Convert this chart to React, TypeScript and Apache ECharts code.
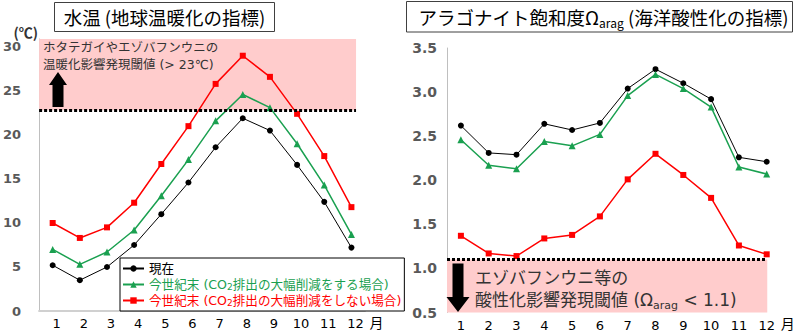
import React, { useEffect, useRef } from "react";
import * as echarts from "echarts";

const months = ["1", "2", "3", "4", "5", "6", "7", "8", "9", "10", "11", "12"];
const seriesNames = [
  "現在",
  "今世紀末 (CO2排出の大幅削減をする場合)",
  "今世紀末 (CO2排出の大幅削減をしない場合)",
];
const seriesColors = ["#000000", "#1AA050", "#FF0000"];
const seriesSymbols = ["circle", "triangle", "rect"];

// water temperature (℃)
const tempNow = [5.2, 3.5, 5.0, 7.5, 11.0, 14.6, 18.6, 21.9, 20.5, 16.6, 12.4, 7.2];
const tempLowEmission = [7.0, 5.3, 6.7, 9.2, 13.1, 17.2, 21.6, 24.6, 23.1, 19.0, 14.3, 8.7];
const tempHighEmission = [10.0, 8.3, 9.5, 12.3, 16.7, 21.0, 25.8, 29.0, 26.6, 22.4, 17.6, 11.8];

// aragonite saturation state
const omegaNow = [2.62, 2.31, 2.29, 2.64, 2.57, 2.65, 3.04, 3.26, 3.10, 2.92, 2.26, 2.21];
const omegaLowEmission = [2.46, 2.17, 2.13, 2.44, 2.39, 2.52, 2.96, 3.20, 3.04, 2.83, 2.15, 2.07];
const omegaHighEmission = [1.37, 1.17, 1.14, 1.34, 1.38, 1.59, 2.01, 2.30, 2.06, 1.80, 1.26, 1.16];

const tempThreshold = 22.8;
const omegaThreshold = 1.1;
const tempAxis = { min: 0, max: 30.9, interval: 5 };
const omegaAxis = { min: 0.5, max: 3.5, interval: 0.5 };

const CJK = "'Noto Sans CJK JP', sans-serif";
const MIX = "'DejaVu Sans', 'Noto Sans CJK JP', sans-serif";
const NUM = "'DejaVu Sans', sans-serif";

export default function App() {
  const ref = useRef<HTMLDivElement>(null);

  useEffect(() => {
    if (!ref.current) return;
    const chart = echarts.init(ref.current, null, { renderer: "svg" });

    const lineSeries = (idx: number, data: number[], grid: number) => ({
      type: "line",
      name: seriesNames[idx],
      data,
      xAxisIndex: grid,
      yAxisIndex: grid,
      symbol: seriesSymbols[idx],
      symbolSize: idx === 1 ? 7 : 6,
      itemStyle: { color: seriesColors[idx] },
      lineStyle: { color: seriesColors[idx], width: idx === 0 ? 1 : 1.5 },
      z: 3,
    });

    const catAxis = (grid: number, showLine: boolean, labelPad: number, nameGap: number) => ({
      type: "category",
      gridIndex: grid,
      data: months,
      boundaryGap: true,
      axisTick: { show: false },
      axisLine: { show: showLine, lineStyle: { color: "#D0D0D0", width: 2 } },
      axisLabel: {
        color: "#000",
        fontFamily: NUM,
        fontSize: 13,
        margin: 6,
        padding: [0, 0, 0, labelPad],
      },
      name: "月",
      nameLocation: "end",
      nameGap,
      nameTextStyle: {
        color: "#000",
        fontFamily: CJK,
        fontSize: 14,
        verticalAlign: "top",
        padding: [4, 0, 0, 0],
      },
    });

    const option: any = {
      animation: false,
      backgroundColor: "#ffffff",
      grid: [
        { left: 39, top: 39, width: 326, height: 272 },
        { left: 447, top: 48, width: 333.6, height: 264.5 },
      ],
      xAxis: [
        catAxis(0, true, 8, 2),
        catAxis(1, false, 0, -9),
        { type: "value", gridIndex: 0, min: 0, max: 12, show: false },
        { type: "value", gridIndex: 1, min: 0, max: 12, show: false },
      ],
      yAxis: [
        {
          type: "value",
          gridIndex: 0,
          min: tempAxis.min,
          max: tempAxis.max,
          interval: tempAxis.interval,
          splitLine: { show: false },
          axisTick: { show: false },
          axisLine: { show: true, lineStyle: { color: "#BFBFBF", width: 1 } },
          axisLabel: {
            color: "#595959",
            fontFamily: NUM,
            fontWeight: "bold",
            fontSize: 13,
            margin: 18,
            showMaxLabel: false,
          },
          name: "(℃)",
          nameLocation: "end",
          nameGap: 0,
          nameTextStyle: {
            color: "#333",
            fontFamily: CJK,
            fontWeight: "bold",
            fontSize: 14,
            align: "right",
            verticalAlign: "bottom",
            padding: [0, 1, 0, 0],
          },
        },
        {
          type: "value",
          gridIndex: 1,
          min: omegaAxis.min,
          max: omegaAxis.max,
          interval: omegaAxis.interval,
          splitLine: { show: false },
          axisTick: { show: false },
          axisLine: { show: true, lineStyle: { color: "#BFBFBF", width: 1 } },
          axisLabel: {
            color: "#595959",
            fontFamily: NUM,
            fontWeight: "bold",
            fontSize: 14,
            margin: 10,
            formatter: (v: number) => v.toFixed(1),
          },
        },
      ],
      legend: {
        orient: "vertical",
        left: 120,
        top: 258,
        padding: [3, 3, 3, 2],
        itemGap: 1,
        itemWidth: 21,
        itemHeight: 8,
        backgroundColor: "#ffffff",
        borderColor: "#000000",
        borderWidth: 1,
        borderRadius: 0,
        selectedMode: false,
        formatter: (name: string) => name.replace("CO2", "CO{sub|2}"),
        textStyle: {
          fontFamily: MIX,
          fontSize: 12.6,
          lineHeight: 15,
          rich: {
            sub: { fontFamily: MIX, fontSize: 9, lineHeight: 8, verticalAlign: "bottom" },
          },
        },
        data: seriesNames.map((n, i) => ({
          name: n,
          textStyle: { color: seriesColors[i] },
        })),
      },
      series: [
        {
          type: "line",
          name: "tempThresholdBand",
          data: [],
          xAxisIndex: 2,
          yAxisIndex: 0,
          z: 1,
          markArea: {
            silent: true,
            itemStyle: { color: "#FFCCCC" },
            data: [[{ coord: [0, tempThreshold] }, { coord: [11.67, tempAxis.max] }]],
          },
          markLine: {
            silent: true,
            symbol: "none",
            label: { show: false },
            lineStyle: { color: "#000", width: 3, type: [3, 2] },
            data: [[{ coord: [0, tempThreshold] }, { coord: [11.67, tempThreshold] }]],
          },
        },
        {
          type: "line",
          name: "omegaThresholdBand",
          data: [],
          xAxisIndex: 3,
          yAxisIndex: 1,
          z: 1,
          markArea: {
            silent: true,
            itemStyle: { color: "#FFCCCC" },
            data: [[{ coord: [0, omegaAxis.min] }, { coord: [11.52, omegaThreshold] }]],
          },
          markLine: {
            silent: true,
            symbol: "none",
            label: { show: false },
            lineStyle: { color: "#000", width: 3, type: [3, 2] },
            data: [[{ coord: [0, omegaThreshold] }, { coord: [11.48, omegaThreshold] }]],
          },
        },
        lineSeries(0, tempNow, 0),
        lineSeries(1, tempLowEmission, 0),
        lineSeries(2, tempHighEmission, 0),
        lineSeries(0, omegaNow, 1),
        lineSeries(1, omegaLowEmission, 1),
        lineSeries(2, omegaHighEmission, 1),
      ],
      graphic: [
        // left title
        {
          type: "rect",
          shape: { x: 54.5, y: 2.5, width: 220, height: 29 },
          style: { fill: "#fff", stroke: "#404040", lineWidth: 1 },
          z: 10,
        },
        {
          type: "text",
          z: 11,
          style: {
            x: 164.5,
            y: 17,
            text: "水温 (地球温暖化の指標)",
            align: "center",
            verticalAlign: "middle",
            fill: "#000",
            fontFamily: CJK,
            fontSize: 18.5,
          },
        },
        // right title
        {
          type: "rect",
          shape: { x: 406.5, y: 1.5, width: 386, height: 30.5 },
          style: { fill: "#fff", stroke: "#404040", lineWidth: 1 },
          z: 10,
        },
        {
          type: "text",
          z: 11,
          style: {
            x: 603.5,
            y: 17,
            text: "{m|アラゴナイト飽和度Ω}{s|arag}{m| (海洋酸性化の指標)}",
            align: "center",
            verticalAlign: "middle",
            fill: "#000",
            rich: {
              m: { fontFamily: CJK, fontSize: 18.5, lineHeight: 24, fill: "#000" },
              s: { fontFamily: CJK, fontSize: 12, lineHeight: 9, verticalAlign: "bottom", fill: "#000" },
            },
          },
        },
        // left annotation
        {
          type: "text",
          z: 11,
          style: {
            x: 43,
            y: 39.4,
            text: "ホタテガイやエゾバフンウニの\n温暖化影響発現閾値 (> 23℃)",
            align: "left",
            verticalAlign: "top",
            fill: "#333",
            fontFamily: MIX,
            fontSize: 12.5,
            lineHeight: 16.6,
          },
        },
        {
          type: "polygon",
          z: 11,
          shape: {
            points: [
              [58, 72],
              [67, 85],
              [63.5, 85],
              [63.5, 107],
              [52.5, 107],
              [52.5, 85],
              [49, 85],
            ],
          },
          style: { fill: "#000" },
        },
        // right annotation
        {
          type: "text",
          z: 11,
          style: {
            x: 475,
            y: 267.5,
            text: "{m|エゾバフンウニ等の}\n{m|酸性化影響発現閾値 (Ω}{s|arag}{m| < 1.1)}",
            align: "left",
            verticalAlign: "top",
            fill: "#333",
            rich: {
              m: { fontFamily: MIX, fontSize: 17, lineHeight: 21.7, fill: "#333" },
              s: { fontFamily: MIX, fontSize: 11, lineHeight: 8, verticalAlign: "bottom", fill: "#333" },
            },
          },
        },
        {
          type: "polygon",
          z: 11,
          shape: {
            points: [
              [452.5, 263.5],
              [463.5, 263.5],
              [463.5, 297],
              [469.5, 297],
              [458, 312],
              [446.5, 297],
              [452.5, 297],
            ],
          },
          style: { fill: "#000" },
        },
      ],
    };

    chart.setOption(option);
    return () => chart.dispose();
  }, []);

  return (
    <div
      ref={ref}
      style={{ position: "fixed", left: 0, top: 0, width: 800, height: 335, background: "#fff" }}
    />
  );
}
